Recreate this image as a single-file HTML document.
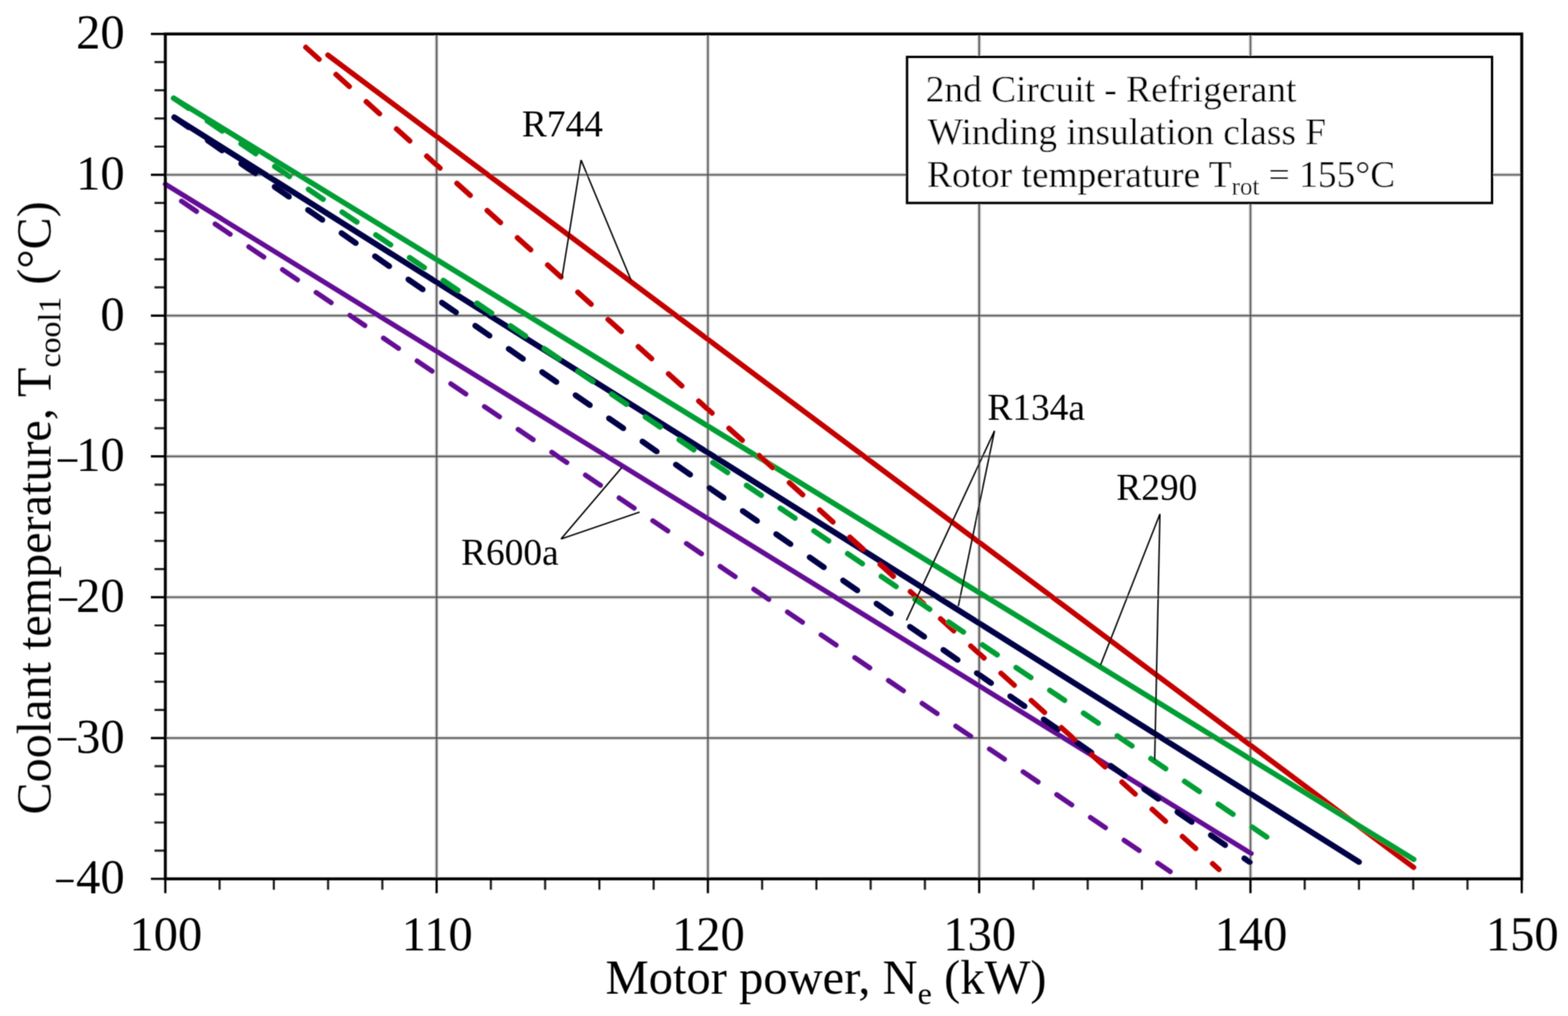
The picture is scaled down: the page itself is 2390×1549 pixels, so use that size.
<!DOCTYPE html>
<html><head><meta charset="utf-8"><title>Coolant temperature vs motor power</title>
<style>
html,body{margin:0;padding:0;background:#fff;}
svg{display:block;}
text{font-family:'Liberation Serif','Times New Roman',serif;fill:#000;}
</style></head><body>
<svg width="2390" height="1549" viewBox="0 0 2390 1549">
<defs><filter id="soft" filterUnits="userSpaceOnUse" x="0" y="0" width="2390" height="1549"><feConvolveMatrix order="3" kernelMatrix="1 2 1 2 4 2 1 2 1" edgeMode="duplicate"/></filter></defs>
<rect x="0" y="0" width="2390" height="1549" fill="#fff"/>
<g filter="url(#soft)">
<path d="M665.5 51.8V1339.9M1079 51.8V1339.9M1492.5 51.8V1339.9M1906 51.8V1339.9M252 266.5H2319.5M252 481.2H2319.5M252 695.8H2319.5M252 910.5H2319.5M252 1125.2H2319.5" stroke="#cfcfcf" stroke-width="5.6" fill="none"/>
<path d="M665.5 51.8V1339.9M1079 51.8V1339.9M1492.5 51.8V1339.9M1906 51.8V1339.9M252 266.5H2319.5M252 481.2H2319.5M252 695.8H2319.5M252 910.5H2319.5M252 1125.2H2319.5" stroke="#464646" stroke-width="2.2" fill="none"/>
<path d="M230 1339.9H252M230 1125.2H252M230 910.5H252M230 695.8H252M230 481.2H252M230 266.5H252M230 51.8H252M252 1339.9V1361.7M665.5 1339.9V1361.7M1079 1339.9V1361.7M1492.5 1339.9V1361.7M1906 1339.9V1361.7M2319.5 1339.9V1361.7" stroke="#000" stroke-width="3.4" fill="none"/>
<path d="M235.5 1296.9H252M235.5 1254H252M235.5 1211.1H252M235.5 1168.1H252M235.5 1082.3H252M235.5 1039.3H252M235.5 996.4H252M235.5 953.5H252M235.5 867.6H252M235.5 824.6H252M235.5 781.7H252M235.5 738.8H252M235.5 652.9H252M235.5 610H252M235.5 567H252M235.5 524.1H252M235.5 438.2H252M235.5 395.3H252M235.5 352.4H252M235.5 309.4H252M235.5 223.5H252M235.5 180.6H252M235.5 137.7H252M235.5 94.7H252M334.7 1339.9V1356.5M417.4 1339.9V1356.5M500.1 1339.9V1356.5M582.8 1339.9V1356.5M748.2 1339.9V1356.5M830.9 1339.9V1356.5M913.6 1339.9V1356.5M996.3 1339.9V1356.5M1161.7 1339.9V1356.5M1244.4 1339.9V1356.5M1327.1 1339.9V1356.5M1409.8 1339.9V1356.5M1575.2 1339.9V1356.5M1657.9 1339.9V1356.5M1740.6 1339.9V1356.5M1823.3 1339.9V1356.5M1988.7 1339.9V1356.5M2071.4 1339.9V1356.5M2154.1 1339.9V1356.5M2236.8 1339.9V1356.5" stroke="#1a1a1a" stroke-width="3.2" fill="none"/>
<path d="M499.8 84 L2154.7 1322.4" stroke="#c40000" stroke-width="8" stroke-linecap="round" stroke-linejoin="round" fill="none"/>
<path d="M265.7 178.9 L2071.5 1314.2" stroke="#000046" stroke-width="8.8" stroke-linecap="round" stroke-linejoin="round" fill="none"/>
<path d="M252 280.7 L1907.1 1301.3" stroke="#640e94" stroke-width="7.6" stroke-linecap="round" stroke-linejoin="round" fill="none"/>
<path d="M265.7 178.9 L1905 1314.5" stroke="#000046" stroke-width="8.8" stroke-linecap="round" stroke-linejoin="round" fill="none" stroke-dasharray="26.5 35.5"/>
<path d="M276.6 306.7 L1783.7 1328.8" stroke="#640e94" stroke-width="7.6" stroke-linecap="round" stroke-linejoin="round" fill="none" stroke-dasharray="27.7 34.3"/>
<path d="M264.7 149.7 L2154.9 1310.2" stroke="#009e34" stroke-width="8.2" stroke-linecap="round" stroke-linejoin="round" fill="none"/>
<path d="M466.1 72.1 L1858 1325.6" stroke="#c40000" stroke-width="8" stroke-linecap="round" stroke-linejoin="round" fill="none" stroke-dasharray="27.3 34.7"/>
<path d="M264.7 149.7 L1932.8 1277.4" stroke="#009e34" stroke-width="8.2" stroke-linecap="round" stroke-linejoin="round" fill="none" stroke-dasharray="27.1 34.9"/>
<rect x="252" y="51.8" width="2067.5" height="1288.1" fill="none" stroke="#000" stroke-width="4.5"/>
<rect x="1382.7" y="87" width="891.3" height="222.3" fill="#fff" stroke="#000" stroke-width="4"/>
<text x="1411" y="155" font-size="57">2nd Circuit - Refrigerant</text>
<text x="1414" y="220" font-size="57">Winding insulation class F</text>
<text x="1413" y="285" font-size="57">Rotor temperature T<tspan font-size="38" dy="11.8">rot</tspan><tspan dy="-11.8"> = 155°C</tspan></text>
<path d="M856.5 423.9L885.7 244M885.7 244L962.5 428.7M1381.6 945.7L1515.9 656.7M1515.9 656.7L1460.7 924.1M1677.3 1014.4L1768 783.6M1768 783.6L1760 1158.7M947.8 712.7L855.1 821.7M855.1 821.7L974.9 780.8" stroke="#000" stroke-width="2.2" fill="none" stroke-linejoin="miter"/>
<text x="795.5" y="208" font-size="57">R744</text>
<text x="1505.1" y="640" font-size="57">R134a</text>
<text x="1701.5" y="762.2" font-size="57">R290</text>
<text x="702.8" y="861.4" font-size="57">R600a</text>
<text x="190" y="74.3" font-size="74" text-anchor="end">20</text>
<text x="190" y="289" font-size="74" text-anchor="end">10</text>
<text x="190" y="503.7" font-size="74" text-anchor="end">0</text>
<text x="190" y="718.3" font-size="74" text-anchor="end">10</text>
<text x="88.3" y="718.9" font-size="74" textLength="29.3" lengthAdjust="spacingAndGlyphs">–</text>
<text x="190" y="933" font-size="74" text-anchor="end">20</text>
<text x="90.1" y="930.9" font-size="74" textLength="27.3" lengthAdjust="spacingAndGlyphs">–</text>
<text x="190" y="1147.7" font-size="74" text-anchor="end">30</text>
<text x="88.3" y="1144.3" font-size="74" textLength="27.7" lengthAdjust="spacingAndGlyphs">–</text>
<text x="190" y="1362.4" font-size="74" text-anchor="end">40</text>
<text x="85.8" y="1359.9" font-size="74" textLength="26.1" lengthAdjust="spacingAndGlyphs">–</text>
<text x="252.8" y="1448.5" font-size="74" text-anchor="middle">100</text>
<text x="666.3" y="1448.5" font-size="74" text-anchor="middle">110</text>
<text x="1079.8" y="1448.5" font-size="74" text-anchor="middle">120</text>
<text x="1493.3" y="1448.5" font-size="74" text-anchor="middle">130</text>
<text x="1906.8" y="1448.5" font-size="74" text-anchor="middle">140</text>
<text x="2320.3" y="1448.5" font-size="74" text-anchor="middle">150</text>
<text x="922.9" y="1515" font-size="74">Motor power, N<tspan font-size="49" dy="15.5">e</tspan><tspan dy="-15.5"> (kW)</tspan></text>
<text transform="translate(77 1241.8) rotate(-90)" font-size="73.4">Coolant temperature, T<tspan font-size="48.6" dy="15.4">cool1</tspan><tspan dy="-15.4"> (°C)</tspan></text>
</g>
</svg>
</body></html>
